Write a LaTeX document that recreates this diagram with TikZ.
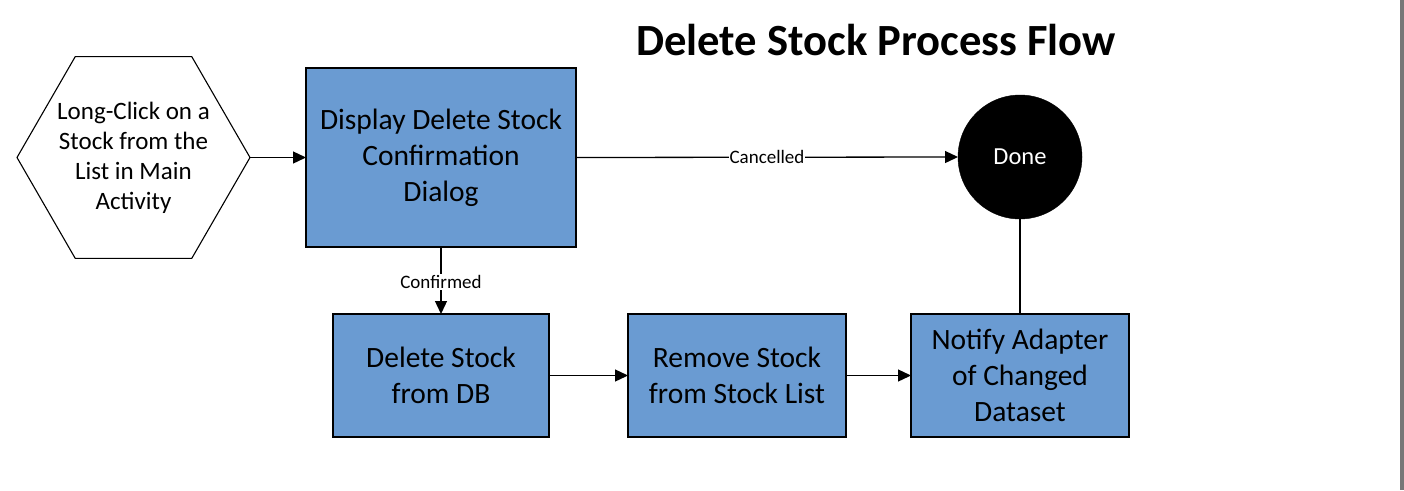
\documentclass[tikz,border=0pt]{standalone}
\usepackage{fontspec}
\setmainfont{Carlito}
\usetikzlibrary{arrows.meta,shapes.geometric}
\definecolor{boxblue}{RGB}{106,155,210}
\definecolor{edgegray}{RGB}{119,119,119}
\tikzset{
  procbox/.style={draw=black, line width=1.3pt, fill=boxblue, inner sep=0pt, outer sep=0pt,
    align=center, font=\fontsize{29.5}{36}\selectfont},
  hexnode/.style={draw=black, line width=1.1pt, regular polygon, regular polygon sides=6,
    minimum size=233pt, inner sep=0pt, outer sep=0pt},
  hextext/.style={align=center, inner sep=0pt, font=\fontsize{25}{30}\selectfont},
  endnode/.style={circle, fill=black, draw=black, minimum size=124pt, inner sep=0pt, outer sep=0pt,
    text=white, font=\fontsize{24.5}{29}\selectfont},
  flow/.style={line width=1.3pt, -{Triangle[length=13pt,width=12pt]}},
  plainflow/.style={line width=1.3pt},
  edgelabel/.style={fill=white, inner sep=1pt, font=\fontsize{19}{22}\selectfont},
  titletext/.style={font=\fontsize{44.6}{50}\selectfont\bfseries, anchor=base}
}
\begin{document}
\begin{tikzpicture}[x=1pt,y=-1pt]
\useasboundingbox (0,0) rectangle (1404,490);
\fill[white] (0,0) rectangle (1404,490);
\fill[edgegray] (1400,0) rectangle (1404,490);

\node[titletext] (title) at (876,55) {Delete Stock Process Flow};

\node[hexnode] (start) at (133.5,157.5) {};
\node[hextext] (starttext) at (start.center) {Long-Click on a\\Stock from the\\List in Main\\Activity};
\node[procbox, minimum width=270pt, minimum height=179pt] (confirm) at (441,157.5)
  {Display Delete Stock\\Confirmation\\Dialog};
\node[endnode] (done) at (1020,157) {Done};
\node[procbox, minimum width=216pt, minimum height=123pt] (deldb) at (441,375.5)
  {Delete Stock\\from DB};
\node[procbox, minimum width=218pt, minimum height=123pt] (remove) at (737,375.5)
  {Remove Stock\\from Stock List};
\node[procbox, minimum width=218pt, minimum height=123pt] (notify) at (1020,375.5)
  {Notify Adapter\\of Changed\\Dataset};

\draw[flow] (start.east) -- (confirm.west);
\draw[flow] (confirm.east) -- node[edgelabel] {Cancelled} (done.west);
\draw[flow] (confirm.south) -- node[edgelabel, pos=0.52] {Confirmed} (deldb.north);
\draw[flow] (deldb.east) -- (remove.west);
\draw[flow] (remove.east) -- (notify.west);
\draw[plainflow] (notify.north) -- (done.south);
\end{tikzpicture}
\end{document}
